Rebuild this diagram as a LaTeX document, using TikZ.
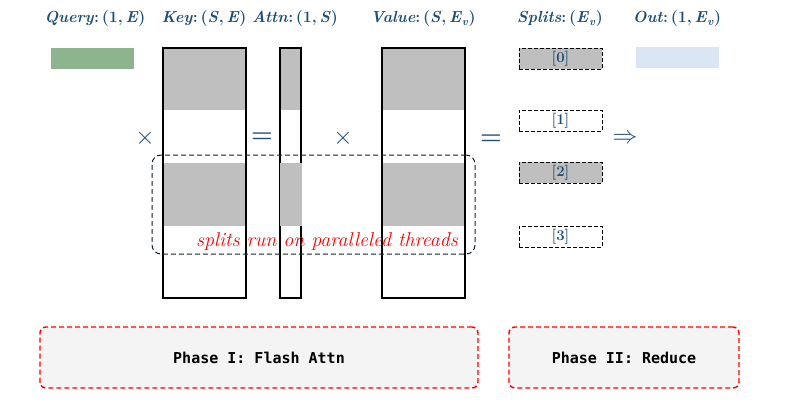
\documentclass[tikz,border=0pt]{standalone}
\usepackage{amsmath,amssymb}
\usepackage{fontspec}
\setmonofont{DejaVu Sans Mono}
\usepackage{xcolor}
\usepackage{tikz}
\usetikzlibrary{positioning}
\usetikzlibrary{backgrounds}
\definecolor{azul}{HTML}{1F4E79}
\definecolor{cinza}{HTML}{BFBFBF}
\definecolor{verde}{HTML}{8DB48E}
\definecolor{celeste}{HTML}{DAE6F3}
\definecolor{fundo}{HTML}{F4F4F4}
\definecolor{ardosia}{HTML}{14202C}
\newcommand{\bit}[1]{\textbf{\textit{#1}}}
\newcommand{\forma}[2]{\bit{#1}\textbf{:\,(}#2\textbf{)}}
\tikzset{
  rotulo/.style={text=azul, font=\fontsize{16}{18}\selectfont\bfseries, inner sep=0pt},
  vetor/.style={minimum width=83pt, minimum height=21pt, inner sep=0pt},
  matriz/.style={draw, line width=1.6pt, minimum width=#1, minimum height=250pt, inner sep=0pt},
  matriz/.default=83pt,
  fatia/.style={draw, dash pattern=on 4pt off 2pt, thin, minimum width=83pt, minimum height=21pt, inner sep=0pt, text=azul, font=\fontsize{15}{17}\selectfont\bfseries},
  op/.style={text=azul, font=\fontsize{25}{27}\selectfont, inner sep=0pt},
  fase/.style={draw=red, dash pattern=on 5pt off 3pt, line width=1.4pt, rounded corners=6pt, fill=fundo, minimum height=61pt, font=\fontsize{15}{17}\selectfont\ttfamily\bfseries},
}

\begin{document}
\begin{tikzpicture}[x=1pt, y=-1pt]
  \useasboundingbox (0,0) rectangle (795,405);
  % cabecalhos
  \node[rotulo] (lq) at (95,19) {\forma{Query}{1,\,\bit{E}}};
  \node[rotulo] (lk) at (204,19) {\forma{Key}{\bit{S},\,\bit{E}}};
  \node[rotulo] (la) at (295,19) {\forma{Attn}{1,\,\bit{S}}};
  \node[rotulo] (lv) at (423,19) {\forma{Value}{\bit{S},\,\bit{E}\textsubscript{\bit{v}}}};
  \node[rotulo] (ls) at (560,19) {\forma{Splits}{\bit{E}\textsubscript{\bit{v}}}};
  \node[rotulo] (lo) at (677,19) {\forma{Out}{1,\,\bit{E}\textsubscript{\bit{v}}}};
  % matrizes
  \node[vetor, fill=verde] (q) at (92.5,58.5) {};
  \node[matriz] (k) at (204.5,173) {};
  \node[matriz=21pt] (a) at (290.5,173) {};
  \node[matriz] (v) at (423.5,173) {};
  \begin{scope}[on background layer]
    \foreach \x/\w in {163/83, 280/21, 382/83}
      \foreach \t/\b in {48/110, 163/226}
        \fill[cinza] (\x,\t) rectangle (\x+\w,\b);
  \end{scope}
  \fill[cinza] (279.5,163) rectangle (301.5,226);
  % operadores
  \node[op] (x1) at (145,138) {$\times$};
  \node[op] (e1) at (262,138) {$\boldsymbol{=}$};
  \node[op] (x2) at (343,138) {$\times$};
  \node[op] (e2) at (491,140) {$\boldsymbol{=}$};
  \node[op] (im) at (625,139) {$\Rightarrow$};
  % splits
  \node[fatia, fill=cinza] (s0) at (560.5,58.5) {[0]};
  \node[fatia] (s1) at (560.5,120.5) {[1]};
  \node[fatia, fill=cinza] (s2) at (560.5,172.5) {[2]};
  \node[fatia] (s3) at (560.5,236.5) {[3]};
  \node[vetor, fill=celeste] (o) at (677.5,57.5) {};
  % threads
  \node[draw=ardosia, dash pattern=on 5pt off 3pt, line width=1pt, rounded corners=9pt,
        minimum width=323pt, minimum height=99pt] (g) at (313.5,204.5) {};
  \node[text=red, font=\fontsize{20}{22}\selectfont\itshape] (t) at (327,241) {splits run on paralleled threads};
  % fases
  \node[fase, minimum width=438pt] (f1) at (259,357.5) {Phase I: Flash Attn};
  \node[fase, minimum width=230pt] (f2) at (624,357.5) {Phase II: Reduce};
\end{tikzpicture}
\end{document}
